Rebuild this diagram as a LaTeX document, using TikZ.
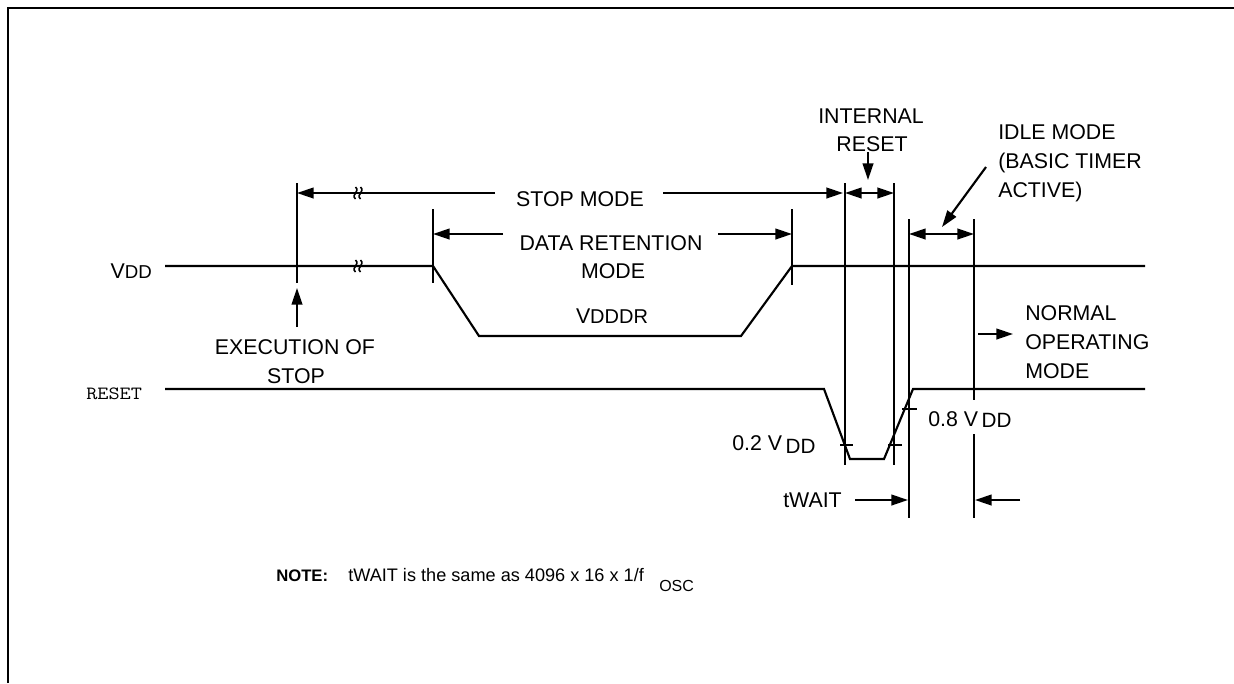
\documentclass[tikz,border=0pt]{standalone}
\usepackage{fontspec}
\setmainfont{Liberation Sans}
\usetikzlibrary{arrows.meta}
\begin{document}
\begin{tikzpicture}[x=0.75pt,y=-0.75pt,
  sig/.style={line width=1.6pt, line join=miter},
  tick/.style={line width=1.4pt},
  arr/.style={line width=1.6pt, -{Triangle[length=12.5pt,width=8pt]}},
  both/.style={line width=1.6pt, {Triangle[length=12.5pt,width=8pt]}-{Triangle[length=12.5pt,width=8pt]}},
  lab/.style={inner sep=0pt, font=\fontsize{16}{18}\selectfont},
  note/.style={inner sep=0pt, font=\fontsize{13.6}{15}\selectfont},
  brk/.style={line width=1.2pt}]
\useasboundingbox (0,0) rectangle (1234,683);
% frame
\draw[line width=2pt] (8,683) -- (8,8) -- (1234,8);

% signals
\draw[sig] (165,266) -- (433,266) -- (479,336) -- (741,336) -- (792,266) -- (1145,266);
\draw[sig] (165,389) -- (824,389) -- (850,459) -- (884,459) -- (913,389) -- (1145,389);

% vertical markers
\draw[sig] (297,183) -- (297,283);
\draw[sig] (433,209) -- (433,283);
\draw[sig] (792,209) -- (792,285);
\draw[sig] (845,183) -- (845,465);
\draw[sig] (894,183) -- (894,465);
\draw[sig] (909,219) -- (909,518);
\draw[sig] (974,219) -- (974,400);
\draw[sig] (974,434) -- (974,518);

% ticks
\draw[tick] (840,445) -- (853,445);
\draw[tick] (888,445) -- (902,445);
\draw[tick] (902,409) -- (917,409);

% break marks
\foreach \yy in {193,266}{
  \foreach \dx in {-2.5,2.5}{
    \draw[brk] (358+\dx,\yy-6) .. controls (358+\dx+5,\yy-1) and (358+\dx-5,\yy+1) .. (358+\dx,\yy+6);
  }
}

% arrows
\draw[arr] (495,193) -- (297,193);
\draw[arr] (663,193) -- (843,193);
\draw[arr] (503,234) -- (433,234);
\draw[arr] (718,234) -- (792,234);
\draw[both] (845,193) -- (894,193);
\draw[arr] (868,152) -- (868,180);
\draw[both] (909,234) -- (974,234);
\draw[arr] (986,167) -- (942,227);
\draw[arr] (297,327) -- (297,288);
\draw[arr] (978,334) -- (1013,334);
\draw[arr] (855,500) -- (908,500);
\draw[arr] (1020,500) -- (975,500);

% labels
\node[lab, anchor=base east] (vdd) at (152,278) {V{\fontsize{14}{16}\selectfont DD}};
\node[inner sep=0pt, anchor=base west, font=\ttfamily\fontsize{14}{16}\selectfont] (rst) at (86,399) {\scalebox{1.16}[1]{RESET}};
\node[lab, anchor=base] (stopmode) at (580,206) {STOP MODE};
\node[lab, anchor=base] (drm1) at (611,250) {DATA RETENTION};
\node[lab, anchor=base] (drm2) at (613,278) {MODE};
\node[lab, anchor=base] (vdddr) at (612,323) {V{\fontsize{15}{17}\selectfont DDDR}};
\node[lab, anchor=base] (ex1) at (295,354) {EXECUTION OF};
\node[lab, anchor=base] (ex2) at (296,383) {STOP};
\node[lab, anchor=base] (ir1) at (871,123) {INTERNAL};
\node[lab, anchor=base] (ir2) at (872,151) {RESET};
\node[lab, anchor=base west] (idle1) at (998,139) {IDLE MODE};
\node[lab, anchor=base west] (idle2) at (998,168) {(BASIC TIMER};
\node[lab, anchor=base west] (idle3) at (998,197) {ACTIVE)};
\node[lab, anchor=base west] (nm1) at (1025,320) {NORMAL};
\node[lab, anchor=base west] (nm2) at (1025,349) {OPERATING};
\node[lab, anchor=base west] (nm3) at (1025,378) {MODE};
\node[lab, anchor=base west] (v02) at (732,450) {0.2 V\,\raisebox{-2.5pt}{\fontsize{15.5}{17}\selectfont DD}};
\node[lab, anchor=base west] (v08) at (928,426) {0.8 V\,\raisebox{-1pt}{\fontsize{15.5}{17}\selectfont DD}};
\node[lab, anchor=base east] (tw) at (842,507) {tWAIT};
\node[inner sep=0pt, font=\fontsize{12.5}{14}\selectfont\bfseries, anchor=base west] (nt) at (276,581) {NOTE:};
\node[note, anchor=base west] (nt2) at (348,581) {tWAIT is the same as 4096 x 16 x 1/f};
\node[note, anchor=base west, font=\fontsize{12}{14}\selectfont] (osc) at (659,591) {OSC};
\end{tikzpicture}
\end{document}
